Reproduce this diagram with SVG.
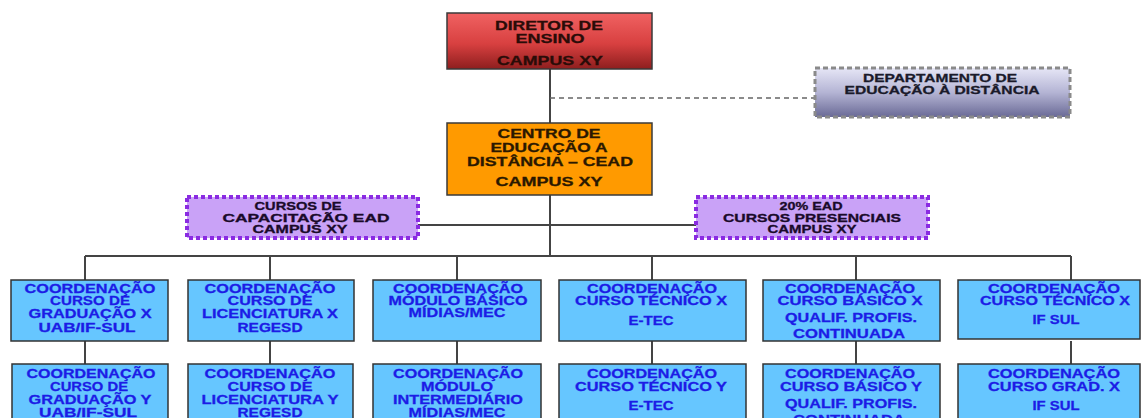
<svg xmlns="http://www.w3.org/2000/svg" width="1143" height="418" viewBox="0 0 1143 418">
  <defs>
    <linearGradient id="gRed" x1="0" y1="0" x2="0" y2="1">
      <stop offset="0" stop-color="#f06262"/>
      <stop offset="0.55" stop-color="#d84040"/>
      <stop offset="1" stop-color="#8e1e1e"/>
    </linearGradient>
    <linearGradient id="gDept" x1="0" y1="0" x2="0" y2="1">
      <stop offset="0" stop-color="#e6e6f6"/>
      <stop offset="0.5" stop-color="#b4b4d4"/>
      <stop offset="1" stop-color="#6a6a96"/>
    </linearGradient>
    <style>
      .t { font-family: "Liberation Sans", Arial, sans-serif; font-weight: bold; text-anchor: middle; stroke-width: 0.3; }
      .dark { fill: #2a0c08; stroke: #2a0c08; font-size: 13px; }
      .brown { fill: #2a1800; stroke: #2a1800; font-size: 13px; }
      .dept { fill: #1a1a2a; stroke: #1a1a2a; font-size: 11.5px; }
      .purp { fill: #1a0a2a; stroke: #1a0a2a; font-size: 11px; }
      .blue { fill: #1c1ce6; stroke: #1c1ce6; font-size: 13px; }
      .box { stroke: #3a3a3a; stroke-width: 1.5; }
      .coord { fill: #66c6ff; stroke: #333; stroke-width: 1.5; }
      .pbox { fill: #c9a2f7; stroke: #8a2be2; stroke-width: 4; stroke-dasharray: 4 3; }
      .line { stroke: #444; stroke-width: 2; fill: none; }
      .dash { stroke: #666; stroke-width: 1.5; stroke-dasharray: 5 4; fill: none; }
    </style>
  </defs>
  <rect width="1143" height="418" fill="#ffffff"/>

  <g id="connectors">
    <line class="line" x1="550" y1="69" x2="550" y2="123"/>
    <line class="dash" x1="550" y1="98" x2="815" y2="98"/>
    <line class="line" x1="550" y1="195" x2="550" y2="256"/>
    <line class="line" x1="418" y1="225" x2="696" y2="225"/>
    <line class="line" x1="85" y1="256" x2="1071" y2="256"/>
    <line class="line" x1="85" y1="256" x2="85" y2="280"/>
    <line class="line" x1="270" y1="256" x2="270" y2="280"/>
    <line class="line" x1="457" y1="256" x2="457" y2="280"/>
    <line class="line" x1="652" y1="256" x2="652" y2="280"/>
    <line class="line" x1="856" y1="256" x2="856" y2="280"/>
    <line class="line" x1="1071" y1="256" x2="1071" y2="280"/>
    <line class="line" x1="85" y1="341" x2="85" y2="364"/>
    <line class="line" x1="270" y1="341" x2="270" y2="364"/>
    <line class="line" x1="457" y1="341" x2="457" y2="364"/>
    <line class="line" x1="652" y1="341" x2="652" y2="364"/>
    <line class="line" x1="856" y1="341" x2="856" y2="364"/>
    <line class="line" x1="1071" y1="341" x2="1071" y2="364"/>
  </g>

  <g id="diretor">
    <rect class="box" x="447" y="13" width="205" height="56" fill="url(#gRed)"/>
    <text class="t dark" x="549" y="30" textLength="108" lengthAdjust="spacingAndGlyphs">DIRETOR DE</text>
    <text class="t dark" x="550" y="43" textLength="69" lengthAdjust="spacingAndGlyphs">ENSINO</text>
    <text class="t dark" x="550" y="65" textLength="106" lengthAdjust="spacingAndGlyphs">CAMPUS XY</text>
  </g>

  <g id="departamento">
    <rect x="815" y="68" width="255" height="49" fill="url(#gDept)" stroke="#8a8a8a" stroke-width="3" stroke-dasharray="5 3"/>
    <text class="t dept" x="940" y="82" textLength="154" lengthAdjust="spacingAndGlyphs">DEPARTAMENTO DE</text>
    <text class="t dept" x="942" y="94" textLength="195" lengthAdjust="spacingAndGlyphs">EDUCAÇÃO À DISTÂNCIA</text>
  </g>

  <g id="cead">
    <rect class="box" x="447" y="123" width="205" height="72" fill="#ff9a00"/>
    <text class="t brown" x="549" y="138" textLength="103" lengthAdjust="spacingAndGlyphs">CENTRO DE</text>
    <text class="t brown" x="549" y="152" textLength="117" lengthAdjust="spacingAndGlyphs">EDUCAÇÃO  A</text>
    <text class="t brown" x="550" y="166" textLength="166" lengthAdjust="spacingAndGlyphs">DISTÂNCIA – CEAD</text>
    <text class="t brown" x="549" y="186" textLength="107" lengthAdjust="spacingAndGlyphs">CAMPUS XY</text>
  </g>

  <g id="capacitacao">
    <rect class="pbox" x="187" y="197" width="231" height="41"/>
    <text class="t purp" x="298" y="210" textLength="87" lengthAdjust="spacingAndGlyphs">CURSOS DE</text>
    <text class="t purp" x="306" y="222" textLength="167" lengthAdjust="spacingAndGlyphs">CAPACITAÇÃO EAD</text>
    <text class="t purp" x="300" y="233" textLength="95" lengthAdjust="spacingAndGlyphs">CAMPUS XY</text>
  </g>

  <g id="presenciais">
    <rect class="pbox" x="696" y="197" width="232" height="41"/>
    <text class="t purp" x="811" y="210" textLength="63" lengthAdjust="spacingAndGlyphs">20% EAD</text>
    <text class="t purp" x="812" y="222" textLength="178" lengthAdjust="spacingAndGlyphs">CURSOS PRESENCIAIS</text>
    <text class="t purp" x="812" y="233" textLength="89" lengthAdjust="spacingAndGlyphs">CAMPUS XY</text>
  </g>

  <!-- first row of coordinations -->
  <g id="grad-x">
    <rect class="coord" x="11" y="280" width="157" height="61"/>
    <text class="t blue" x="90" y="293" textLength="131" lengthAdjust="spacingAndGlyphs">COORDENAÇÃO</text>
    <text class="t blue" x="90" y="305" textLength="80" lengthAdjust="spacingAndGlyphs">CURSO DE</text>
    <text class="t blue" x="90" y="318" textLength="123" lengthAdjust="spacingAndGlyphs">GRADUAÇÃO X</text>
    <text class="t blue" x="87" y="332" textLength="97" lengthAdjust="spacingAndGlyphs">UAB/IF-SUL</text>
  </g>
  <g id="lic-x">
    <rect class="coord" x="188" y="280" width="166" height="61"/>
    <text class="t blue" x="270" y="293" textLength="131" lengthAdjust="spacingAndGlyphs">COORDENAÇÃO</text>
    <text class="t blue" x="270" y="305" textLength="85" lengthAdjust="spacingAndGlyphs">CURSO DE</text>
    <text class="t blue" x="270" y="318" textLength="136" lengthAdjust="spacingAndGlyphs">LICENCIATURA X</text>
    <text class="t blue" x="270" y="332" textLength="65" lengthAdjust="spacingAndGlyphs">REGESD</text>
  </g>
  <g id="mod-basico">
    <rect class="coord" x="373" y="280" width="168" height="61"/>
    <text class="t blue" x="458" y="293" textLength="130" lengthAdjust="spacingAndGlyphs">COORDENAÇÃO</text>
    <text class="t blue" x="458" y="305" textLength="139" lengthAdjust="spacingAndGlyphs">MÓDULO BÁSICO</text>
    <text class="t blue" x="457" y="317" textLength="97" lengthAdjust="spacingAndGlyphs">MÍDIAS/MEC</text>
  </g>
  <g id="tec-x-etec">
    <rect class="coord" x="559" y="280" width="187" height="61"/>
    <text class="t blue" x="652" y="293" textLength="130" lengthAdjust="spacingAndGlyphs">COORDENAÇÃO</text>
    <text class="t blue" x="651" y="305" textLength="152" lengthAdjust="spacingAndGlyphs">CURSO TÉCNICO X</text>
    <text class="t blue" x="651" y="325" textLength="45" lengthAdjust="spacingAndGlyphs">E-TEC</text>
  </g>
  <g id="basico-x">
    <rect class="coord" x="763" y="280" width="177" height="61"/>
    <text class="t blue" x="850" y="293" textLength="130" lengthAdjust="spacingAndGlyphs">COORDENAÇÃO</text>
    <text class="t blue" x="850" y="305" textLength="145" lengthAdjust="spacingAndGlyphs">CURSO BÁSICO X</text>
    <text class="t blue" x="851" y="322" textLength="132" lengthAdjust="spacingAndGlyphs">QUALIF. PROFIS.</text>
    <text class="t blue" x="849" y="338" textLength="112" lengthAdjust="spacingAndGlyphs">CONTINUADA</text>
  </g>
  <g id="tec-x-ifsul">
    <rect class="coord" x="958" y="280" width="182" height="59"/>
    <text class="t blue" x="1054" y="293" textLength="132" lengthAdjust="spacingAndGlyphs">COORDENAÇÃO</text>
    <text class="t blue" x="1055" y="305" textLength="150" lengthAdjust="spacingAndGlyphs">CURSO TÉCNICO X</text>
    <text class="t blue" x="1056" y="324" textLength="47" lengthAdjust="spacingAndGlyphs">IF SUL</text>
  </g>

  <!-- second row of coordinations -->
  <g id="grad-y">
    <rect class="coord" x="12" y="364" width="156" height="70"/>
    <text class="t blue" x="91" y="378" textLength="129" lengthAdjust="spacingAndGlyphs">COORDENAÇÃO</text>
    <text class="t blue" x="89" y="391" textLength="78" lengthAdjust="spacingAndGlyphs">CURSO DE</text>
    <text class="t blue" x="90" y="404" textLength="123" lengthAdjust="spacingAndGlyphs">GRADUAÇÃO Y</text>
    <text class="t blue" x="88" y="417" textLength="98" lengthAdjust="spacingAndGlyphs">UAB/IF-SUL</text>
  </g>
  <g id="lic-y">
    <rect class="coord" x="188" y="364" width="165" height="70"/>
    <text class="t blue" x="270" y="378" textLength="131" lengthAdjust="spacingAndGlyphs">COORDENAÇÃO</text>
    <text class="t blue" x="270" y="391" textLength="85" lengthAdjust="spacingAndGlyphs">CURSO DE</text>
    <text class="t blue" x="270" y="404" textLength="137" lengthAdjust="spacingAndGlyphs">LICENCIATURA Y</text>
    <text class="t blue" x="270" y="417" textLength="65" lengthAdjust="spacingAndGlyphs">REGESD</text>
  </g>
  <g id="mod-intermediario">
    <rect class="coord" x="373" y="364" width="168" height="70"/>
    <text class="t blue" x="458" y="378" textLength="130" lengthAdjust="spacingAndGlyphs">COORDENAÇÃO</text>
    <text class="t blue" x="457" y="391" textLength="72" lengthAdjust="spacingAndGlyphs">MÓDULO</text>
    <text class="t blue" x="458" y="404" textLength="130" lengthAdjust="spacingAndGlyphs">INTERMEDIÁRIO</text>
    <text class="t blue" x="457" y="417" textLength="97" lengthAdjust="spacingAndGlyphs">MÍDIAS/MEC</text>
  </g>
  <g id="tec-y-etec">
    <rect class="coord" x="559" y="364" width="187" height="70"/>
    <text class="t blue" x="652" y="378" textLength="130" lengthAdjust="spacingAndGlyphs">COORDENAÇÃO</text>
    <text class="t blue" x="651" y="391" textLength="152" lengthAdjust="spacingAndGlyphs">CURSO TÉCNICO Y</text>
    <text class="t blue" x="651" y="410" textLength="45" lengthAdjust="spacingAndGlyphs">E-TEC</text>
  </g>
  <g id="basico-y">
    <rect class="coord" x="763" y="364" width="177" height="70"/>
    <text class="t blue" x="850" y="378" textLength="130" lengthAdjust="spacingAndGlyphs">COORDENAÇÃO</text>
    <text class="t blue" x="851" y="391" textLength="142" lengthAdjust="spacingAndGlyphs">CURSO BÁSICO Y</text>
    <text class="t blue" x="851" y="408" textLength="132" lengthAdjust="spacingAndGlyphs">QUALIF. PROFIS.</text>
    <text class="t blue" x="849" y="424" textLength="112" lengthAdjust="spacingAndGlyphs">CONTINUADA</text>
  </g>
  <g id="grad-x-ifsul">
    <rect class="coord" x="958" y="364" width="182" height="70"/>
    <text class="t blue" x="1054" y="378" textLength="132" lengthAdjust="spacingAndGlyphs">COORDENAÇÃO</text>
    <text class="t blue" x="1054" y="391" textLength="132" lengthAdjust="spacingAndGlyphs">CURSO GRAD.  X</text>
    <text class="t blue" x="1056" y="410" textLength="47" lengthAdjust="spacingAndGlyphs">IF SUL</text>
  </g>
</svg>
